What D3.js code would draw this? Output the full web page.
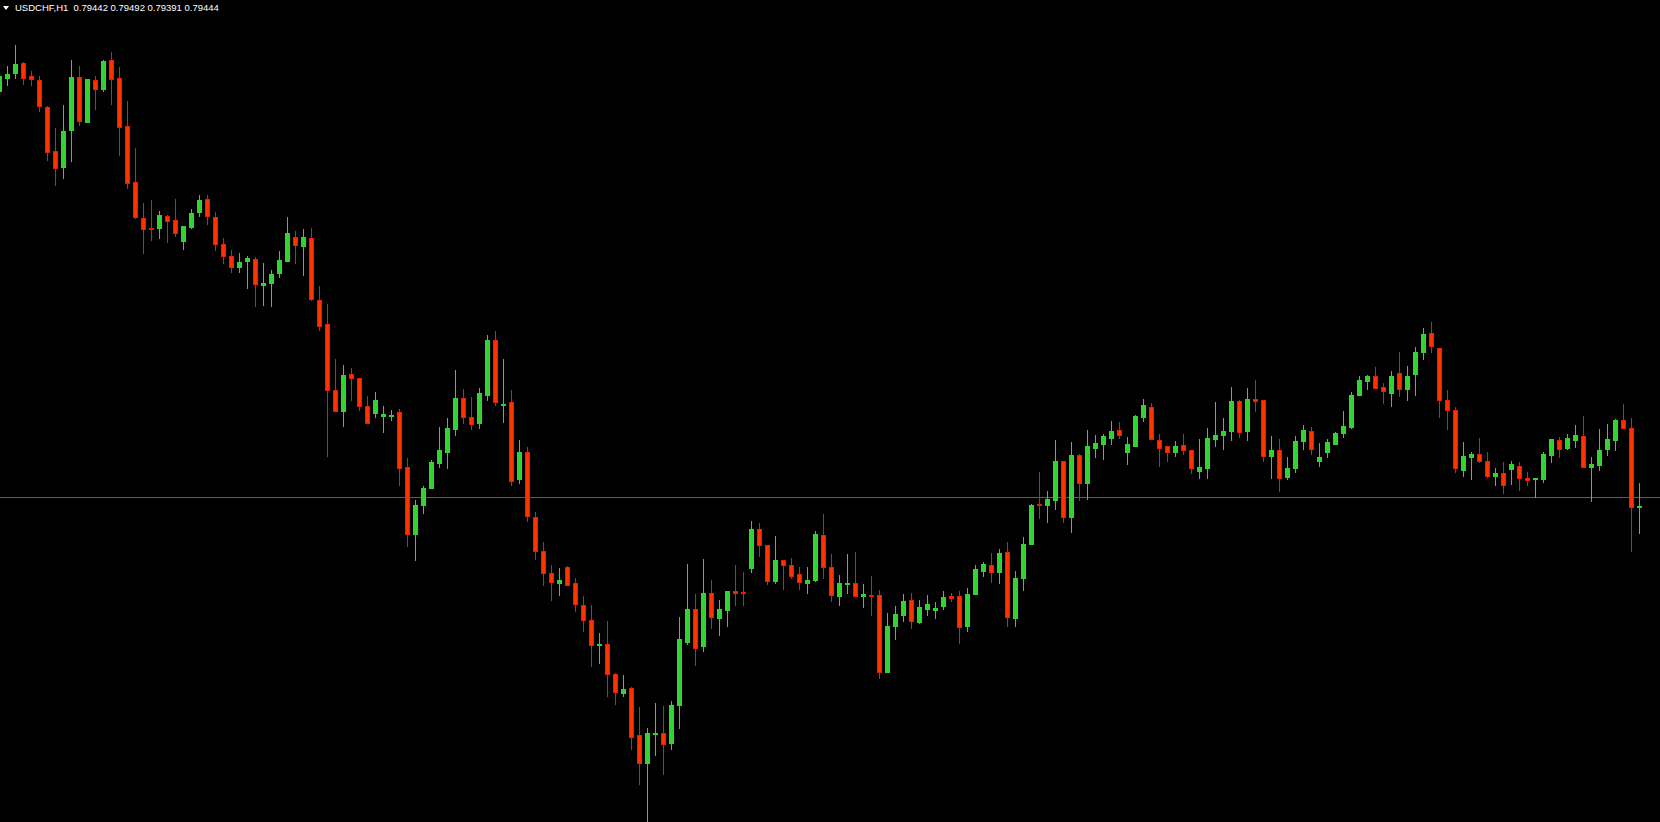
<!DOCTYPE html>
<html><head><meta charset="utf-8">
<script src="https://cdn.jsdelivr.net/npm/d3@7"></script>
<style>html,body{margin:0;padding:0;background:#000;overflow:hidden}</style>
</head><body>
<svg id="c" width="1660" height="822"></svg>
<script>
const symbolLabel = "USDCHF,H1";
const lastQuote = ["0.79442", "0.79492", "0.79391", "0.79444"];
const bidLevel = 0.79463;

const opens = [0.80275,0.80302,0.80312,0.80331,0.80305,0.80297,0.80243,0.80155,0.80122,0.80196,
0.80303,0.80214,0.80297,0.80279,0.80337,0.80301,0.80205,0.80093,0.80020,0.80000,
0.80000,0.80026,0.80018,0.79974,0.80004,0.80032,0.80060,0.80024,0.79970,0.79946,
0.79924,0.79934,0.79940,0.79886,0.79892,0.79910,0.79936,0.79984,0.79964,0.79982,
0.79858,0.79808,0.79676,0.79636,0.79708,0.79702,0.79646,0.79630,0.79626,0.79626,
0.79633,0.79523,0.79388,0.79448,0.79482,0.79530,0.79552,0.79598,0.79662,0.79624,
0.79610,0.79666,0.79776,0.79648,0.79652,0.79498,0.79552,0.79424,0.79354,0.79310,
0.79291,0.79322,0.79292,0.79248,0.79218,0.79167,0.79168,0.79108,0.79072,0.79082,
0.78986,0.78930,0.78989,0.78990,0.78972,0.79048,0.79173,0.79239,0.79164,0.79272,
0.79220,0.79238,0.79275,0.79273,0.79320,0.79399,0.79367,0.79296,0.79337,0.79328,
0.79308,0.79292,0.79297,0.79387,0.79322,0.79264,0.79290,0.79290,0.79264,0.79267,
0.79266,0.79112,0.79206,0.79228,0.79256,0.79214,0.79240,0.79238,0.79244,0.79265,
0.79265,0.79206,0.79268,0.79316,0.79328,0.79314,0.79352,0.79220,0.79300,0.79370,
0.79449,0.79446,0.79458,0.79534,0.79424,0.79547,0.79492,0.79562,0.79569,0.79582,
0.79597,0.79552,0.79564,0.79623,0.79643,0.79577,0.79565,0.79552,0.79567,0.79557,
0.79516,0.79520,0.79580,0.79586,0.79596,0.79654,0.79596,0.79660,0.79656,0.79546,
0.79557,0.79504,0.79520,0.79574,0.79595,0.79534,0.79552,0.79570,0.79590,0.79604,
0.79666,0.79696,0.79705,0.79684,0.79672,0.79710,0.79678,0.79708,0.79752,0.79792,
0.79762,0.79656,0.79638,0.79518,0.79542,0.79550,0.79534,0.79506,0.79510,0.79519,
0.79525,0.79502,0.79498,0.79499,0.79547,0.79577,0.79561,0.79577,0.79585,0.79522,
0.79527,0.79559,0.79577,0.79617,0.79601,0.79442];

const highs = [0.80309,0.80325,0.80367,0.80333,0.80315,0.80305,0.80245,0.80201,0.80247,0.80337,
0.80325,0.80299,0.80305,0.80337,0.80353,0.80323,0.80255,0.80161,0.80051,0.80057,
0.80035,0.80027,0.80059,0.80006,0.80039,0.80067,0.80067,0.80033,0.79981,0.79957,
0.79951,0.79945,0.79942,0.79931,0.79917,0.79955,0.80023,0.79995,0.79999,0.80001,
0.79885,0.79849,0.79739,0.79727,0.79721,0.79702,0.79665,0.79673,0.79645,0.79637,
0.79639,0.79541,0.79457,0.79485,0.79538,0.79603,0.79621,0.79717,0.79679,0.79663,
0.79681,0.79787,0.79795,0.79739,0.79677,0.79577,0.79563,0.79433,0.79373,0.79328,
0.79321,0.79326,0.79300,0.79265,0.79247,0.79191,0.79215,0.79111,0.79107,0.79084,
0.79042,0.79001,0.79051,0.79045,0.79055,0.79223,0.79329,0.79269,0.79339,0.79297,
0.79257,0.79275,0.79328,0.79313,0.79415,0.79411,0.79367,0.79385,0.79337,0.79341,
0.79323,0.79323,0.79395,0.79429,0.79350,0.79307,0.79349,0.79353,0.79289,0.79305,
0.79277,0.79231,0.79245,0.79269,0.79271,0.79257,0.79267,0.79253,0.79275,0.79271,
0.79275,0.79281,0.79328,0.79333,0.79351,0.79360,0.79373,0.79315,0.79383,0.79450,
0.79513,0.79475,0.79577,0.79534,0.79573,0.79549,0.79597,0.79587,0.79589,0.79615,
0.79613,0.79583,0.79627,0.79659,0.79651,0.79589,0.79565,0.79575,0.79589,0.79557,
0.79579,0.79601,0.79653,0.79621,0.79683,0.79658,0.79681,0.79697,0.79656,0.79585,
0.79579,0.79543,0.79585,0.79607,0.79603,0.79571,0.79579,0.79593,0.79635,0.79673,
0.79705,0.79707,0.79723,0.79690,0.79716,0.79753,0.79726,0.79763,0.79801,0.79813,
0.79762,0.79677,0.79642,0.79573,0.79553,0.79581,0.79553,0.79521,0.79533,0.79535,
0.79533,0.79513,0.79501,0.79553,0.79579,0.79583,0.79589,0.79607,0.79625,0.79543,
0.79599,0.79609,0.79619,0.79649,0.79621,0.79492];

const lows = [0.80271,0.80287,0.80302,0.80290,0.80287,0.80235,0.80138,0.80086,0.80102,0.80134,
0.80207,0.80214,0.80239,0.80275,0.80249,0.80147,0.80082,0.80020,0.79951,0.79977,
0.79981,0.79973,0.79985,0.79959,0.80002,0.80026,0.80008,0.79958,0.79931,0.79914,
0.79914,0.79882,0.79846,0.79848,0.79844,0.79904,0.79936,0.79930,0.79907,0.79856,
0.79797,0.79546,0.79636,0.79606,0.79658,0.79638,0.79610,0.79622,0.79594,0.79617,
0.79487,0.79364,0.79338,0.79430,0.79482,0.79522,0.79520,0.79586,0.79610,0.79598,
0.79602,0.79658,0.79648,0.79612,0.79486,0.79490,0.79416,0.79340,0.79286,0.79256,
0.79266,0.79286,0.79236,0.79196,0.79124,0.79130,0.79064,0.79050,0.79064,0.78960,
0.78888,0.78800,0.78948,0.78908,0.78960,0.79000,0.79169,0.79127,0.79154,0.79202,
0.79186,0.79206,0.79248,0.79248,0.79314,0.79344,0.79289,0.79292,0.79280,0.79300,
0.79278,0.79272,0.79295,0.79302,0.79254,0.79248,0.79272,0.79264,0.79242,0.79228,
0.79100,0.79112,0.79178,0.79216,0.79200,0.79210,0.79228,0.79220,0.79240,0.79255,
0.79172,0.79196,0.79268,0.79306,0.79294,0.79292,0.79206,0.79206,0.79276,0.79368,
0.79420,0.79412,0.79440,0.79414,0.79394,0.79456,0.79460,0.79542,0.79539,0.79568,
0.79582,0.79529,0.79564,0.79615,0.79578,0.79526,0.79534,0.79544,0.79550,0.79510,
0.79500,0.79502,0.79564,0.79560,0.79576,0.79584,0.79576,0.79636,0.79534,0.79500,
0.79474,0.79498,0.79512,0.79560,0.79550,0.79526,0.79542,0.79570,0.79584,0.79602,
0.79666,0.79680,0.79682,0.79651,0.79646,0.79664,0.79658,0.79666,0.79740,0.79752,
0.79624,0.79598,0.79512,0.79506,0.79498,0.79532,0.79504,0.79486,0.79472,0.79489,
0.79477,0.79487,0.79463,0.79493,0.79533,0.79543,0.79559,0.79563,0.79522,0.79455,
0.79517,0.79547,0.79557,0.79600,0.79355,0.79391];

const closes = [0.80305,0.80309,0.80329,0.80302,0.80298,0.80244,0.80152,0.80120,0.80195,0.80303,
0.80216,0.80299,0.80278,0.80335,0.80298,0.80204,0.80092,0.80024,0.79998,0.79998,
0.80027,0.80016,0.79992,0.80005,0.80031,0.80057,0.80026,0.79970,0.79946,0.79924,
0.79932,0.79941,0.79888,0.79892,0.79908,0.79938,0.79991,0.79966,0.79983,0.79860,
0.79806,0.79676,0.79636,0.79707,0.79702,0.79644,0.79610,0.79657,0.79629,0.79628,
0.79520,0.79388,0.79446,0.79482,0.79533,0.79557,0.79601,0.79661,0.79624,0.79608,
0.79671,0.79777,0.79652,0.79650,0.79496,0.79553,0.79426,0.79354,0.79310,0.79294,
0.79297,0.79286,0.79250,0.79218,0.79166,0.79170,0.79108,0.79074,0.79079,0.78984,
0.78930,0.78990,0.78992,0.78970,0.79047,0.79179,0.79239,0.79162,0.79272,0.79222,
0.79240,0.79275,0.79272,0.79271,0.79399,0.79366,0.79296,0.79337,0.79328,0.79306,
0.79294,0.79297,0.79389,0.79322,0.79266,0.79292,0.79291,0.79264,0.79269,0.79266,
0.79114,0.79206,0.79229,0.79255,0.79216,0.79243,0.79249,0.79241,0.79263,0.79262,
0.79204,0.79270,0.79319,0.79329,0.79314,0.79351,0.79222,0.79301,0.79369,0.79447,
0.79446,0.79459,0.79535,0.79424,0.79547,0.79490,0.79565,0.79571,0.79585,0.79595,
0.79586,0.79569,0.79625,0.79647,0.79578,0.79562,0.79552,0.79565,0.79556,0.79520,
0.79523,0.79581,0.79587,0.79595,0.79655,0.79594,0.79660,0.79654,0.79546,0.79557,
0.79502,0.79521,0.79575,0.79597,0.79560,0.79543,0.79573,0.79591,0.79605,0.79667,
0.79697,0.79705,0.79682,0.79674,0.79706,0.79678,0.79706,0.79753,0.79789,0.79764,
0.79656,0.79638,0.79520,0.79545,0.79549,0.79534,0.79506,0.79510,0.79486,0.79529,
0.79500,0.79497,0.79501,0.79549,0.79579,0.79560,0.79581,0.79587,0.79522,0.79529,
0.79557,0.79579,0.79617,0.79600,0.79442,0.79444];

const W = 1660, H = 822;
const bullColor = "#32d232", bearFill = "#ff3300", bearLine = "#ff1000";
const svg = d3.select("#c");
svg.append("rect").attr("width", W).attr("height", H).attr("fill", "#000");

const n = opens.length;
const bars = d3.range(n).map(i => ({i, o: opens[i], h: highs[i], l: lows[i], c: closes[i]}));
const x = d3.scaleLinear().domain([0, n - 1]).range([-0.7, -0.7 + 8 * (n - 1)]);
const y = d3.scaleLinear().domain([0.78813, 0.80457]).range([H, 0]);

// bid level line
svg.append("line")
  .attr("x1", 0).attr("x2", W)
  .attr("y1", Math.round(y(bidLevel)) + 0.5).attr("y2", Math.round(y(bidLevel)) + 0.5)
  .attr("stroke", "#1a8c1a").attr("stroke-width", 1);

const g = svg.append("g");
const cand = g.selectAll("g.cd").data(bars).join("g").attr("class", "cd");
cand.append("line")
  .attr("x1", d => Math.round(x(d.i)) + 0.5).attr("x2", d => Math.round(x(d.i)) + 0.5)
  .attr("y1", d => Math.round(y(d.h))).attr("y2", d => Math.round(y(d.l)) + 1)
  .attr("stroke", d => d.c >= d.o ? bullColor : bearLine).attr("stroke-width", 1);
cand.append("rect")
  .attr("x", d => Math.round(x(d.i)) - 1.5)
  .attr("y", d => Math.round(y(Math.max(d.o, d.c))) + 0.5)
  .attr("width", 4)
  .attr("height", d => Math.max(1, Math.round(y(Math.min(d.o, d.c))) - Math.round(y(Math.max(d.o, d.c)))))
  .attr("fill", d => d.c >= d.o ? bullColor : bearFill)
  .attr("stroke", d => d.c >= d.o ? bullColor : bearLine)
  .attr("stroke-width", 1);

// title
svg.append("path").attr("d", "M3,6 L9,6 L6,10 Z").attr("fill", "#fff");
svg.append("text").attr("x", 15).attr("y", 11)
  .attr("fill", "#fff").attr("font-family", "'Liberation Sans', Arial, sans-serif").attr("font-size", 9.5)
  .attr("xml:space", "preserve").style("white-space", "pre")
  .text(symbolLabel + "  " + lastQuote.join(" "));
</script>
</body></html>
